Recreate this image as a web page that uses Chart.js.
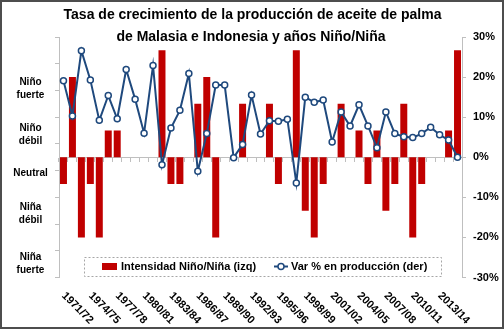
<!DOCTYPE html>
<html>
<head>
<meta charset="utf-8">
<script src="https://cdn.jsdelivr.net/npm/chart.js@4.4.1/dist/chart.umd.min.js"></script>
<style>
  html, body { margin: 0; padding: 0; background: #fff; }
  #wrap { width: 504px; height: 329px; position: relative; }
</style>
</head>
<body>
<div id="wrap"><canvas id="chart" width="504" height="329"></canvas></div>
<script>
// --- data ---
const campaigns = ['1971/72', '1972/73', '1973/74', '1974/75', '1975/76', '1976/77', '1977/78', '1978/79', '1979/80',
    '1980/81', '1981/82', '1982/83', '1983/84', '1984/85', '1985/86', '1986/87', '1987/88', '1988/89', '1989/90',
    '1990/91', '1991/92', '1992/93', '1993/94', '1994/95', '1995/96', '1996/97', '1997/98', '1998/99', '1999/00',
    '2000/01', '2001/02', '2002/03', '2003/04', '2004/05', '2005/06', '2006/07', '2007/08', '2008/09', '2009/10',
    '2010/11', '2011/12', '2012/13', '2013/14', '2014/15', '2015/16'];

// Niño (+) / Niña (-) intensity, left axis
const intensity = [-1, 3, -3, -1, -3, 1, 1, 0, 0, 0, 0, 4, -1, -1, 0, 2, 3, -3, 0, 0, 2, 0, 0, 2, -1,
    0, 4, -2, -3, -1, 0, 2, 0, 1, -1, 1, -2, -1, 2, -3, -1, 0, 0, 1, 4];

// production growth %, right axis
const growth = [19.1, 10.3, 26.6, 19.3, 9.2, 15.4, 9.6, 21.9, 14.5, 6.0, 22.9, -1.9, 7.3, 11.7, 20.9,
    -3.5, 5.9, 18.0, 18.0, -0.1, 3.2, 15.5, 5.8, 9.1, 9.0, 9.5, -6.4, 15.0, 13.7, 14.3, 3.8, 11.3,
    7.8, 13.1, 7.8, 2.4, 11.3, 5.9, 5.1, 4.9, 5.9, 7.5, 5.6, 4.3, 0.0];

const leftTickLabels = [['Niño', 'fuerte'], ['Niño', 'débil'], ['Neutral'], ['Niña', 'débil'], ['Niña', 'fuerte']];
const titleLines = ['Tasa de crecimiento de la producción de aceite de palma', 'de Malasia e Indonesia y años Niño/Niña'];
const seriesNames = ['Intensidad Niño/Niña (izq)', 'Var % en producción (der)'];

const RED = '#C00000';
const NAVY = '#1F497D';
const AXIS = '#BFBFBF';
const FONT = '"Liberation Sans", Arial, sans-serif';

// extra drawing: title, left category labels, slanted x labels, legend, frame
const decor = {
    id: 'decor',
    beforeDraw(chart) {
        const ctx = chart.ctx;
        ctx.save();
        ctx.fillStyle = '#fff';
        ctx.fillRect(0, 0, chart.width, chart.height);
        ctx.restore();
    },
    afterDraw(chart) {
        const ctx = chart.ctx;
        const xs = chart.scales.x, ys = chart.scales.y;
        ctx.save();
        ctx.fillStyle = '#000';

        // title
        ctx.font = 'bold 14px ' + FONT;
        ctx.textAlign = 'center';
        ctx.textBaseline = 'middle';
        ctx.fillText(titleLines[0], 252.5, 15);
        ctx.fillText(titleLines[1], 251, 37);

        // left axis labels (sit between the tick marks)
        const labelPos = [2.56, 0.86, -0.61, -2.11, -4.0];
        ctx.font = 'bold 10px ' + FONT;
        leftTickLabels.forEach((lines, i) => {
            const cy = ys.getPixelForValue(labelPos[i]);
            lines.forEach((t, j) => {
                ctx.fillText(t, 30.5, cy + (j - (lines.length - 1) / 2) * 13);
            });
        });

        // slanted category labels, every third campaign
        ctx.font = 'bold 11px ' + FONT;
        ctx.textAlign = 'left';
        campaigns.forEach((c, i) => {
            if (i % 3 !== 0) return;
            const px = xs.getPixelForValue(i);
            ctx.save();
            ctx.translate(px, 294);
            ctx.rotate(Math.PI / 4);
            ctx.fillText(c, 0, 0);
            ctx.restore();
        });

        // legend box
        ctx.fillStyle = '#fff';
        ctx.fillRect(84.5, 257.5, 357, 19);
        ctx.setLineDash([2, 2]);
        ctx.strokeStyle = '#A6A6A6';
        ctx.lineWidth = 1;
        ctx.strokeRect(84.5, 257.5, 357, 19);
        ctx.setLineDash([]);
        ctx.fillStyle = RED;
        ctx.fillRect(102, 263, 15, 7);
        ctx.strokeStyle = NAVY;
        ctx.lineWidth = 2;
        ctx.beginPath();
        ctx.moveTo(274, 266.5);
        ctx.lineTo(288, 266.5);
        ctx.stroke();
        ctx.beginPath();
        ctx.arc(281, 266.5, 3, 0, Math.PI * 2);
        ctx.fillStyle = '#fff';
        ctx.fill();
        ctx.lineWidth = 1.5;
        ctx.stroke();
        ctx.fillStyle = '#000';
        ctx.font = 'bold 11px ' + FONT;
        ctx.textBaseline = 'middle';
        ctx.fillText(seriesNames[0], 121, 267);
        ctx.fillText(seriesNames[1], 291, 267);

        // outer frame
        ctx.strokeStyle = '#4D4D4D';
        ctx.lineWidth = 2;
        ctx.strokeRect(1, 1, chart.width - 2, chart.height - 2);
        ctx.restore();
    }
};

const ctx = document.getElementById('chart').getContext('2d');
new Chart(ctx, {
    type: 'bar',
    data: {
        labels: campaigns,
        datasets: [{
            label: seriesNames[0],
            data: intensity,
            backgroundColor: RED,
            yAxisID: 'y',
            barPercentage: 0.78,
            categoryPercentage: 1.0,
            order: 2
        }, {
            type: 'line',
            label: seriesNames[1],
            data: growth,
            yAxisID: 'y1',
            borderColor: NAVY,
            borderWidth: 2,
            pointRadius: 3,
            pointBorderWidth: 1.5,
            pointBackgroundColor: '#fff',
            pointBorderColor: NAVY,
            tension: 0,
            order: 1
        }]
    },
    options: {
        responsive: false,
        animation: false,
        devicePixelRatio: 1,
        layout: { padding: { top: 37, bottom: 51.5, left: 0, right: 0 } },
        plugins: {
            legend: { display: false },
            title: { display: false },
            tooltip: { enabled: false }
        },
        scales: {
            x: {
                position: { y: 0 },
                offset: true,
                grid: { display: true, drawOnChartArea: false, offset: true, tickLength: 4, color: AXIS },
                border: { display: true, color: AXIS },
                ticks: { display: false }
            },
            y: {
                position: 'left',
                min: -4.5,
                max: 4.5,
                afterBuildTicks: function(scale) {
                    scale.ticks = [-4.5, -3.5, -2.5, -1.5, -0.5, 0.5, 1.5, 2.5, 3.5, 4.5].map(v => ({ value: v }));
                },
                afterFit: function(scale) { scale.width = 59; },
                grid: { drawOnChartArea: false, tickLength: 4, color: AXIS },
                border: { color: AXIS },
                ticks: { display: false }
            },
            y1: {
                position: 'right',
                min: -30,
                max: 30,
                afterFit: function(scale) { scale.width = 42; },
                grid: { drawOnChartArea: false, tickLength: 4, color: AXIS },
                border: { color: AXIS },
                ticks: {
                    stepSize: 10,
                    padding: 7,
                    color: '#000',
                    font: { family: FONT, size: 11, weight: 'bold' },
                    callback: function(value) { return value + '%'; }
                }
            }
        }
    },
    plugins: [decor]
});
</script>
</body>
</html>
